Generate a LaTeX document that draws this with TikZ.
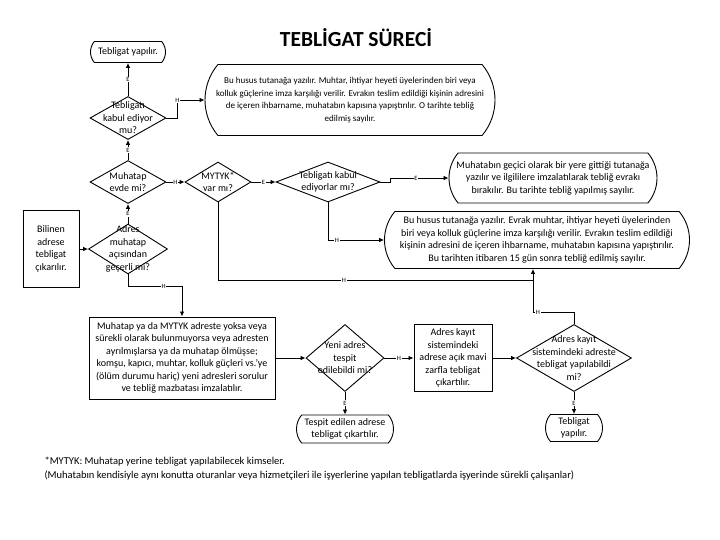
\documentclass[tikz,border=0pt]{standalone}
\usepackage{fontspec}
\setmainfont{Carlito}
\usetikzlibrary{shapes.geometric,shapes.misc,arrows.meta}

\tikzset{
  txt/.style={font=\fontsize{10}{12.5}\selectfont},
  flow/.style={line width=0.8pt},
  arr/.style={flow, -{Latex[length=5pt,width=4.5pt]}},
  term/.style={rounded rectangle, rounded rectangle arc length=80, draw,
    line width=0.9pt, align=center, inner sep=1pt, txt},
  decision/.style={diamond, draw, line width=0.9pt, inner sep=0pt},
  dtext/.style={align=center, inner sep=0pt, txt},
  box/.style={rectangle, draw, line width=1pt, align=center, inner sep=1pt, txt},
  yn/.style={fill=white, inner sep=0.8pt, font=\fontsize{6.5}{7}\selectfont},
}

\begin{document}
\begin{tikzpicture}[x=1pt, y=-1pt]
  \useasboundingbox (0,0) rectangle (720,540);

  \node[font=\fontsize{21.5}{24}\selectfont\bfseries] (title) at (356,38) {TEBLİGAT SÜRECİ};

  % Main column
  \node[term, minimum width=77, minimum height=21] (done1) at (128,52) {Tebligat yapılır.};
  \node[decision, minimum width=76, minimum height=43,
    label={[dtext]center:Tebligatı\\kabul ediyor\\mu?}] (kabul) at (128,118) {};
  \node[term, minimum width=292, minimum height=71, font=\fontsize{9}{12.5}\selectfont] (tutanak1) at (350,100)
    {Bu husus tutanağa yazılır. Muhtar, ihtiyar heyeti üyelerinden biri veya\\
     kolluk güçlerine imza karşılığı verilir. Evrakın teslim edildiği kişinin adresini\\
     de içeren ihbarname, muhatabın kapısına yapıştırılır. O tarihte tebliğ\\
     edilmiş sayılır.};
  \node[decision, minimum width=76, minimum height=43,
    label={[dtext]center:Muhatap\\evde mi?}] (evde) at (128,182) {};
  \node[decision, minimum width=66, minimum height=40,
    label={[dtext]center:MYTYK*\\var mı?}] (mytyk) at (218,182) {};
  \node[decision, minimum width=104, minimum height=40,
    label={[dtext]center:Tebligatı kabul\\ediyorlar mı?}] (kabul2) at (328,182) {};
  \node[term, minimum width=210, minimum height=50] (gecici) at (553,178)
    {Muhatabın geçici olarak bir yere gittiği tutanağa\\
     yazılır ve ilgililere imzalatılarak tebliğ evrakı\\
     bırakılır. Bu tarihte tebliğ yapılmış sayılır.};
  \node[term, minimum width=307, minimum height=57] (tutanak2) at (537,240)
    {Bu husus tutanağa yazılır. Evrak muhtar, ihtiyar heyeti üyelerinden\\
     biri veya kolluk güçlerine imza karşılığı verilir. Evrakın teslim edildiği\\
     kişinin adresini de içeren ihbarname, muhatabın kapısına yapıştırılır.\\
     Bu tarihten itibaren 15 gün sonra tebliğ edilmiş sayılır.};

  % Address check
  \node[box, minimum width=56, minimum height=76] (bilinen) at (51,249)
    {Bilinen\\adrese\\tebligat\\çıkarılır.};
  \node[decision, minimum width=79, minimum height=50,
    label={[dtext]center:Adres\\muhatap\\açısından\\geçerli mi?}] (gecerli) at (128,249) {};
  \node[box, minimum width=186, minimum height=82] (yoksa) at (182,358)
    {Muhatap ya da MYTYK adreste yoksa veya\\
     sürekli olarak bulunmuyorsa veya adresten\\
     ayrılmışlarsa ya da muhatap ölmüşse;\\
     komşu, kapıcı, muhtar, kolluk güçleri vs.'ye\\
     (ölüm durumu hariç) yeni adresleri sorulur\\
     ve tebliğ mazbatası imzalatılır.};
  \node[decision, minimum width=78, minimum height=67,
    label={[dtext]center:Yeni adres\\tespit\\edilebildi mi?}] (yeni) at (345,358) {};
  \node[term, minimum width=99, minimum height=28] (tespit) at (345,429)
    {Tespit edilen adrese\\tebligat çıkartılır.};
  \node[box, minimum width=78, minimum height=67] (kayit) at (453,358)
    {Adres kayıt\\sistemindeki\\adrese açık mavi\\zarfla tebligat\\çıkartılır.};
  \node[decision, minimum width=115, minimum height=67,
    label={[dtext]center:Adres kayıt\\sistemindeki adreste\\tebligat yapılabildi\\mi?}] (sistem) at (574,358) {};
  \node[term, minimum width=59, minimum height=27] (done2) at (574,428)
    {Tebligat\\yapılır.};

  \coordinate (jn) at (533,280);

  % Connectors
  \draw[arr] (kabul.north) -- node[yn]{E} (done1.south);
  \draw[arr] (kabul.east) -- ++(11,0) |- node[yn, pos=0.5]{H} (tutanak1.west);
  \draw[arr] (evde.north) -- node[yn]{E} (kabul.south);
  \draw[arr] (evde.east) -- node[yn]{H} (mytyk.west);
  \draw[arr] (mytyk.east) -- node[yn]{E} (kabul2.west);
  \draw[arr] (kabul2.east) -- ++(10,0) |- node[yn, pos=0.72]{E} (gecici.west);
  \draw[arr] (kabul2.south) |- node[yn, pos=0.58]{H} (tutanak2.west);
  \draw[flow] (mytyk.south) |- node[yn, pos=0.7]{H} (jn);
  \draw[arr] (jn) -- (jn |- tutanak2.south);
  \draw[arr] (bilinen.east) -- (gecerli.west);
  \draw[arr] (gecerli.north) -- node[yn]{E} (evde.south);
  \draw[arr] (gecerli.south) -- ++(0,12) -| node[yn, pos=0.33]{H} (yoksa.north);
  \draw[arr] (yoksa.east) -- (yeni.west);
  \draw[arr] (yeni.east) -- node[yn]{H} (kayit.west);
  \draw[arr] (yeni.south) -- node[yn]{E} (tespit.north);
  \draw[arr] (kayit.east) -- (sistem.west);
  \draw[arr] (sistem.south) -- node[yn]{E} (done2.north);
  \draw[flow] (sistem.north) -- ++(0,-12) -| node[yn, pos=0.44]{H} (jn);

  % Footnote
  \node[anchor=west, font=\fontsize{10.5}{12}\selectfont] (note1) at (41,462)
    {*MYTYK: Muhatap yerine tebligat yapılabilecek kimseler.};
  \node[anchor=west, font=\fontsize{10.5}{12}\selectfont] (note2) at (41,476)
    {(Muhatabın kendisiyle aynı konutta oturanlar veya hizmetçileri ile işyerlerine yapılan tebligatlarda işyerinde sürekli çalışanlar)};
\end{tikzpicture}
\end{document}
